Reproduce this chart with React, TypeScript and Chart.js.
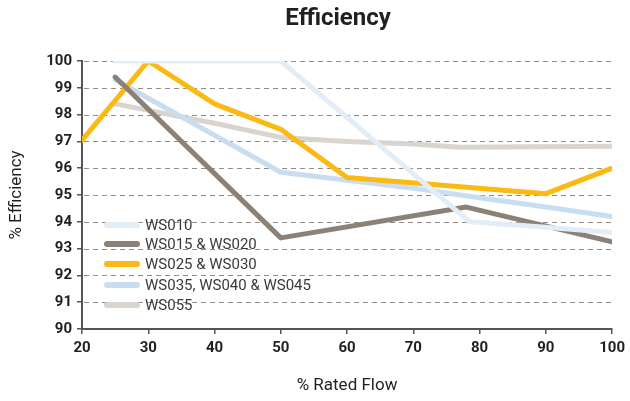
import React, { useEffect, useRef } from "react";
import { Chart, registerables } from "chart.js";

Chart.register(...registerables);

const seriesNames = ["WS010", "WS015 & WS020", "WS025 & WS030", "WS035, WS040 & WS045", "WS055"];
const seriesColors = ["#e3edf8", "#8b8176", "#fdb913", "#c9ddf1", "#d9d4ce"];

const ws010X = [25, 50, 78.5, 90, 100];
const ws010Y = [100, 100, 94.0, 93.8, 93.6];
const ws015X = [25, 50, 78, 100];
const ws015Y = [99.4, 93.4, 94.55, 93.25];
const ws025X = [20, 30, 40, 50, 60, 90, 100];
const ws025Y = [97.05, 100, 98.4, 97.45, 95.65, 95.05, 96.0];
const ws035X = [25, 50, 60, 70, 80, 90, 100];
const ws035Y = [99.3, 95.85, 95.55, 95.25, 94.9, 94.55, 94.2];
const ws055X = [25, 40, 50, 60, 70, 77, 100];
const ws055Y = [98.4, 97.68, 97.15, 97.0, 96.9, 96.78, 96.82];

const seriesX = [ws010X, ws015X, ws025X, ws035X, ws055X];
const seriesY = [ws010Y, ws015Y, ws025Y, ws035Y, ws055Y];

const xTicks = [20, 30, 40, 50, 60, 70, 80, 90, 100];
const yTicks = [90, 91, 92, 93, 94, 95, 96, 97, 98, 99, 100];

const chartTitle = "Efficiency";
const xTitle = "% Rated Flow";
const yTitle = "% Efficiency";

const FONT = "Roboto";

export default function App() {
  const ref = useRef<HTMLCanvasElement | null>(null);

  useEffect(() => {
    if (!ref.current) return;

    const dashedGrid = {
      id: "dashedGrid",
      beforeDatasetsDraw(chart: any) {
        const ctx = chart.ctx;
        const y = chart.scales.y;
        const { left, right } = chart.chartArea;
        ctx.save();
        ctx.strokeStyle = "#968b81";
        ctx.lineWidth = 1;
        ctx.setLineDash([5, 4]);
        y.ticks.forEach((t: any) => {
          if (t.value === 90) return;
          const py = Math.round(y.getPixelForValue(t.value)) + 0.5;
          ctx.beginPath();
          ctx.moveTo(left + 2, py);
          ctx.lineTo(right, py);
          ctx.stroke();
        });
        ctx.restore();
      },
    };

    const overlay = {
      id: "overlay",
      afterDraw(chart: any) {
        const ctx = chart.ctx;
        ctx.save();
        ctx.fillStyle = "#231f20";
        ctx.font = `bold 24px ${FONT}`;
        ctx.textAlign = "center";
        ctx.textBaseline = "middle";
        ctx.fillText(chartTitle, 338, 19);
        ctx.font = `15px ${FONT}`;
        ctx.textAlign = "left";
        const rows = [225, 244, 264, 285, 305];
        seriesNames.forEach((n, i) => {
          ctx.strokeStyle = seriesColors[i];
          ctx.lineWidth = 6;
          ctx.lineCap = "round";
          ctx.beginPath();
          ctx.moveTo(107, rows[i]);
          ctx.lineTo(137, rows[i]);
          ctx.stroke();
          ctx.fillStyle = "#3a3a3a";
          ctx.fillText(n, 145, rows[i] + 1);
        });
        ctx.restore();
      },
    };

    const chart = new Chart(ref.current, {
      type: "line",
      data: {
        datasets: seriesNames.map((n, i) => ({
          label: n,
          data: seriesX[i].map((x, j) => ({ x, y: seriesY[i][j] })),
          borderColor: seriesColors[i],
          backgroundColor: seriesColors[i],
          borderWidth: 5,
          pointRadius: 0,
          tension: 0,
          borderJoinStyle: "round",
          borderCapStyle: "round",
          fill: false,
        })),
      },
      options: {
        animation: false,
        responsive: true,
        maintainAspectRatio: false,
        layout: { padding: { top: 61, left: 0, right: 13, bottom: 0 } },
        plugins: {
          legend: { display: false },
          tooltip: { enabled: false },
          title: { display: false },
        },
        scales: {
          x: {
            type: "linear",
            min: 20,
            max: 100,
            afterFit: (s: any) => {
              s.height = 72;
            },
            afterBuildTicks: (s: any) => {
              s.ticks = xTicks.map((v) => ({ value: v }));
            },
            grid: {
              drawOnChartArea: false,
              drawTicks: true,
              tickLength: 5,
              color: "#555555",
              lineWidth: 1.5,
            },
            border: { display: true, color: "#555555", width: 2 },
            ticks: {
              color: "#231f20",
              font: { family: FONT, size: 15, weight: "bold" },
              padding: 5,
              maxRotation: 0,
            },
            title: {
              display: true,
              text: xTitle,
              color: "#231f20",
              font: { family: FONT, size: 17 },
              padding: { top: 0, bottom: 5 },
            },
          },
          y: {
            type: "linear",
            min: 90,
            max: 100,
            afterFit: (s: any) => {
              s.width = 82;
            },
            afterBuildTicks: (s: any) => {
              s.ticks = yTicks.map((v) => ({ value: v }));
            },
            grid: {
              drawOnChartArea: false,
              drawTicks: true,
              tickLength: 5,
              color: "#555555",
              lineWidth: 1.5,
            },
            border: { display: true, color: "#555555", width: 2 },
            ticks: {
              color: "#231f20",
              font: { family: FONT, size: 15, weight: "bold" },
              padding: 5,
            },
            title: {
              display: true,
              text: yTitle,
              color: "#231f20",
              font: { family: FONT, size: 17 },
              padding: { top: 7, bottom: 0 },
            },
          },
        },
      },
      plugins: [dashedGrid, overlay],
    } as any);

    return () => chart.destroy();
  }, []);

  return (
    <div style={{ position: "absolute", left: 0, top: 0, width: 630, height: 401, background: "#fff" }}>
      <canvas ref={ref} />
    </div>
  );
}
